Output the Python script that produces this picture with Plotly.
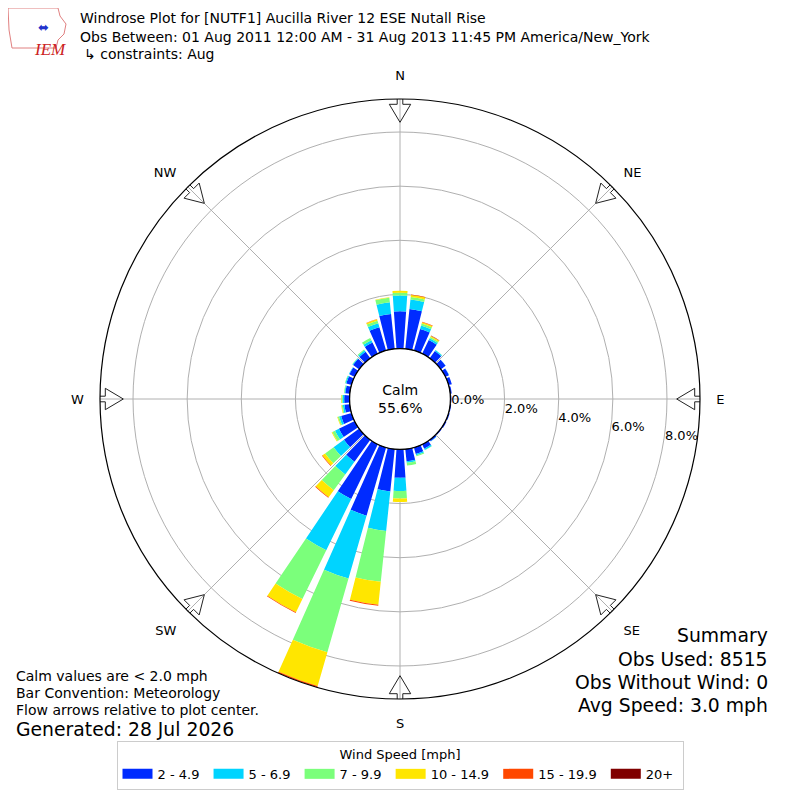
import math
import plotly.graph_objects as go

# wind direction bins (degrees, meteorological) and percent of obs per speed bin
directions = [0, 10, 20, 30, 40, 50, 60, 70, 80, 90, 100, 110,
              120, 130, 140, 150, 160, 170, 180, 190, 200, 210, 220, 230,
              240, 250, 260, 270, 280, 290, 300, 310, 320, 330, 340, 350]

speed_2_5 = [1.38, 1.48, 0.83, 0.56, 0.33, 0.22, 0.15, 0.13, 0.06, 0.04, 0.04, 0.05,
             0.05, 0.04, 0.07, 0.18, 0.25, 0.45, 1.05, 1.57, 2.62, 2.25, 1.00, 0.70,
             0.65, 0.40, 0.20, 0.20, 0.17, 0.20, 0.22, 0.28, 0.30, 0.46, 0.90, 1.30]
speed_5_7 = [0.58, 0.35, 0.13, 0.07, 0.04, 0.01, 0.01, 0.00, 0.00, 0.00, 0.00, 0.00,
             0.00, 0.00, 0.01, 0.05, 0.05, 0.06, 0.49, 1.47, 2.42, 2.10, 0.58, 0.47,
             0.16, 0.08, 0.06, 0.06, 0.03, 0.04, 0.02, 0.03, 0.06, 0.09, 0.15, 0.43]
speed_7_10 = [0.10, 0.10, 0.08, 0.06, 0.01, 0.00, 0.00, 0.00, 0.00, 0.00, 0.00, 0.00,
              0.00, 0.00, 0.00, 0.01, 0.04, 0.10, 0.27, 1.89, 2.83, 2.01, 0.72, 0.39,
              0.11, 0.05, 0.04, 0.04, 0.02, 0.02, 0.00, 0.01, 0.04, 0.10, 0.10, 0.17]
speed_10_15 = [0.08, 0.07, 0.05, 0.04, 0.00, 0.00, 0.00, 0.00, 0.00, 0.00, 0.00, 0.00,
               0.00, 0.00, 0.00, 0.00, 0.00, 0.00, 0.13, 0.85, 1.30, 0.54, 0.32, 0.12,
               0.03, 0.02, 0.02, 0.02, 0.00, 0.00, 0.00, 0.00, 0.00, 0.00, 0.05, 0.02]
speed_15_20 = [0.00, 0.02, 0.02, 0.01, 0.00, 0.00, 0.00, 0.00, 0.00, 0.00, 0.00, 0.00,
               0.00, 0.00, 0.00, 0.00, 0.00, 0.00, 0.00, 0.04, 0.05, 0.03, 0.03, 0.02,
               0.00, 0.00, 0.00, 0.00, 0.00, 0.00, 0.00, 0.00, 0.00, 0.00, 0.01, 0.00]
speed_20_up = [0.00, 0.00, 0.00, 0.01, 0.00, 0.00, 0.00, 0.00, 0.00, 0.00, 0.00, 0.00,
               0.00, 0.00, 0.00, 0.00, 0.00, 0.00, 0.00, 0.00, 0.00, 0.00, 0.00, 0.00,
               0.00, 0.00, 0.00, 0.00, 0.00, 0.00, 0.00, 0.00, 0.00, 0.00, 0.00, 0.00]

speed_labels = ["2 - 4.9", "5 - 6.9", "7 - 9.9", "10 - 14.9", "15 - 19.9", "20+"]
speed_colors = ["#002bff", "#00d4ff", "#7bff7b", "#ffe600", "#ff4800", "#800000"]
speed_values = [speed_2_5, speed_5_7, speed_7_10, speed_10_15, speed_15_20, speed_20_up]

compass_angles = [0, 45, 90, 135, 180, 225, 270, 315]
compass_labels = ["N", "NE", "E", "SE", "S", "SW", "W", "NW"]
radial_ticks = [0, 2, 4, 6, 8]

calm_pct = 55.6
obs_used = 8515
obs_no_wind = 0
avg_speed = 3.0

FONT = "DejaVu Sans"
OFF = 8          # the page puts the plot 8px in from the corner
R_MAX = 9.22
R_PX = 300.0
HOLE = 0.168
HOLE_PX = R_PX * HOLE
K = (R_PX - HOLE_PX) / R_MAX   # pixels per percent


def px(x):
    return (x - OFF) / 800


def py(y):
    return 1 - (y - OFF) / 800


def px_to_r(p):
    return (p - HOLE_PX) / K


fig = go.Figure()

for label, color, vals in zip(speed_labels, speed_colors, speed_values):
    fig.add_trace(go.Barpolar(r=vals, theta=directions, width=8, name=label,
                              marker=dict(color=color, line=dict(width=0)),
                              showlegend=False))

# calm circle outline
fig.add_trace(go.Scatterpolar(r=[0] * 73, theta=list(range(0, 365, 5)), mode="lines",
                              line=dict(color="black", width=1.3), cliponaxis=False,
                              showlegend=False, hoverinfo="skip"))

# hollow flow arrows on the rim, pointing at the centre
outline = [(304.7, -2.8), (294.7, -2.8), (294.7, -10.7), (276.7, 0.0),
           (294.7, 10.7), (294.7, 2.8), (304.7, 2.8), (304.7, -2.8)]
for ang in compass_angles:
    rr = [px_to_r(math.hypot(a, w)) for a, w in outline]
    tt = [ang + math.degrees(math.atan2(w, a)) for a, w in outline]
    fig.add_trace(go.Scatterpolar(r=rr, theta=tt, mode="lines",
                                  line=dict(color="#222222", width=1), cliponaxis=False,
                                  showlegend=False, hoverinfo="skip"))

# legend swatches
for label, color in zip(speed_labels, speed_colors):
    fig.add_trace(go.Scatterpolar(r=[None], theta=[None], mode="lines",
                                  name=label + "\u00a0", line=dict(color=color, width=10)))

fig.update_layout(
    width=800, height=800,
    margin=dict(l=0, r=0, t=0, b=0, autoexpand=False),
    paper_bgcolor="white",
    font=dict(family=FONT, size=13, color="black"),
    polar=dict(
        domain=dict(x=[px(100), px(700)], y=[py(699), py(99)]),
        hole=HOLE,
        bgcolor="white",
        barmode="stack",
        angularaxis=dict(direction="clockwise", rotation=90,
                         tickmode="array", tickvals=compass_angles, ticktext=compass_labels,
                         ticks="outside", ticklen=13, tickcolor="rgba(0,0,0,0)",
                         showline=True, linecolor="black", linewidth=1.2,
                         showgrid=True, gridcolor="#b0b0b0", gridwidth=1,
                         tickfont=dict(size=13)),
        radialaxis=dict(range=[0, R_MAX], tickmode="array", tickvals=radial_ticks,
                        ticktext=[f"{v:.1f}%" for v in radial_ticks],
                        angle=-9.4, tickangle=-9.4, side="counterclockwise",
                        showline=False, ticks="",
                        showgrid=True, gridcolor="#b0b0b0", gridwidth=1,
                        tickfont=dict(size=13)),
    ),
    legend=dict(orientation="h", x=px(400), xanchor="center", y=py(741), yanchor="top",
                bordercolor="#cccccc", borderwidth=1, bgcolor="white",
                title=dict(text="Wind Speed [mph]", side="top center", font=dict(size=13)),
                font=dict(size=13), itemwidth=30, tracegroupgap=0),
)


def note(text, x, y, size, anchor="left", **kw):
    fig.add_annotation(text=text, x=px(x), y=py(y), xref="paper", yref="paper",
                       xanchor=anchor, yanchor="middle", showarrow=False,
                       font=dict(family=FONT, size=size, color="black"), **kw)


note("Windrose Plot for [NUTF1] Aucilla River 12 ESE Nutall Rise", 78, 18, 14)
note("Obs Between: 01 Aug 2011 12:00 AM - 31 Aug 2013 11:45 PM America/New_York", 78, 37, 14)
note("\u21b3 constraints: Aug", 82, 54, 14)

note(f"Calm<br>{calm_pct:.1f}%", 400, 399, 14, anchor="center", align="center")

note("Summary", 770, 635, 18.8, anchor="right")
note(f"Obs Used: {obs_used}", 770, 659, 18.8, anchor="right")
note(f"Obs Without Wind: {obs_no_wind}", 770, 682, 18.8, anchor="right")
note(f"Avg Speed: {avg_speed:.1f} mph", 770, 705, 18.8, anchor="right")

note("Calm values are < 2.0 mph", 14, 676, 14)
note("Bar Convention: Meteorology", 14, 693, 14)
note("Flow arrows relative to plot center.", 14, 710, 14)
note("Generated: 28 Jul 2026", 14, 729, 18.8)

# rough IEM logo (state outline, wind glyph, letters)
logo = [(8, 8), (58, 8), (60, 16), (66, 24), (64, 34), (58, 40), (56, 48), (12, 48), (9, 30)]
path = "M " + " L ".join(f"{px(x):.4f} {py(y):.4f}" for x, y in logo) + " Z"
fig.add_shape(type="path", xref="paper", yref="paper", path=path,
              line=dict(color="#e08080", width=1))
fig.add_annotation(text="<i>IEM</i>", x=px(32), y=py(38), xref="paper", yref="paper",
                   showarrow=False, font=dict(family="Liberation Serif", size=17, color="#cc2222"))
fig.add_annotation(text="\u2b0c", x=px(36), y=py(18), xref="paper", yref="paper",
                   showarrow=False, font=dict(family=FONT, size=13, color="#2233cc"))

fig.write_html("out.html")
